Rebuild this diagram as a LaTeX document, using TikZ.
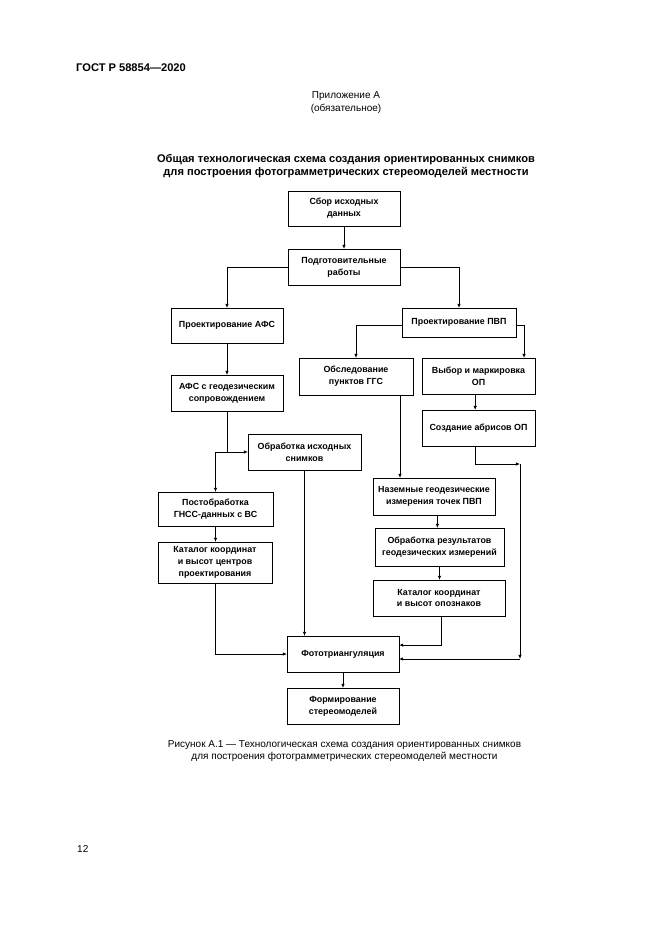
\documentclass[tikz,border=0pt]{standalone}
\usepackage{fontspec}
\setmainfont{Liberation Sans}
\usetikzlibrary{arrows.meta,calc}
\newcommand\bxfont{\bfseries\fontsize{8}{10.6}\selectfont}
\newcommand\mybox[6]{\node[box, minimum width={#4*0.9pt}, minimum height={#5*0.9pt}] (#1) at (#2,#3) {#6};}
\tikzset{
  box/.style={draw, line width=0.85pt, inner sep=1pt, outer sep=0pt, align=center, font=\bxfont},
  conn/.style={line width=0.7pt, -{Latex[length=3.8pt,width=3.2pt]}},
  plain/.style={line width=0.7pt},
  txt/.style={inner sep=0pt, align=center}
}
\begin{document}
\begin{tikzpicture}[x=0.9pt,y=-0.9pt]
\useasboundingbox[fill=white] (0,0) rectangle (661,935);
% header texts
\node[txt, anchor=west, font=\bfseries\fontsize{10}{12}\selectfont] (gost) at (76,68) {ГОСТ Р 58854—2020};
\node[txt, font=\fontsize{9}{11.7}\selectfont] (app) at (346,102.5) {Приложение А\\(обязательное)};
\node[txt, font=\bfseries\fontsize{10}{11.7}\selectfont] (title) at (346,166) {Общая технологическая схема создания ориентированных снимков\\для построения фотограмметрических стереомоделей местности};
% boxes
\mybox{src}{344}{208.5}{112}{35}{Сбор исходных\\данных}
\mybox{prep}{344}{267}{112}{36}{Подготовительные\\работы}
\mybox{afs}{227}{325.5}{112}{35}{Проектирование АФС}
\mybox{pvp}{459}{322.5}{114}{29}{Проектирование ПВП}
\mybox{afsg}{227}{393}{112}{36}{АФС с геодезическим\\сопровождением}
\mybox{obsl}{356}{376.5}{114}{37}{Обследование\\пунктов ГГС}
\mybox{vybor}{478.5}{376}{113}{36}{Выбор и маркировка\\ОП}
\mybox{abris}{478.5}{428}{113}{36}{Создание абрисов ОП}
\mybox{obrisx}{304.5}{452}{113}{36}{Обработка исходных\\снимков}
\mybox{post}{215.5}{509}{115}{34}{Постобработка\\ГНСС-данных с ВС}
\mybox{katc}{215}{562.5}{114}{41}{Каталог координат\\и высот центров\\проектирования}
\mybox{nazem}{434}{496.5}{122}{37}{Наземные геодезические\\измерения точек ПВП}
\mybox{obrres}{439.5}{547}{129}{38}{Обработка результатов\\геодезических измерений}
\mybox{katop}{439}{598}{132}{36}{Каталог координат\\и высот опознаков}
\mybox{foto}{343}{654}{112}{36}{Фототриангуляция}
\mybox{form}{343}{706}{112}{36}{Формирование\\стереомоделей}
% connectors
\draw[conn] (src.south) -- (prep.north);
\draw[conn] (prep.west) -| (afs.north);
\draw[conn] (prep.east) -| (pvp.north);
\draw[conn] (afs.south) -- (afsg.north);
\draw[conn] ([yshift=-3pt]pvp.west) -| (obsl.north);
\draw[conn] ([yshift=-2.5pt]pvp.east) -| ([xshift=41pt]vybor.north);
\draw[conn] ([xshift=-3pt]vybor.south) -- ([xshift=-3pt]abris.north);
\draw[plain] (afsg.south) -- (afsg.south |- obrisx.west);
\draw[conn] (post.north |- obrisx.west) -- (obrisx.west);
\draw[conn] (post.north |- obrisx.west) -- (post.north);
\draw[conn] (obrisx.south) -- (obrisx.south |- foto.north);
\draw[conn] (post.south) -- (post.south |- katc.north);
\draw[conn] (katc.south) |- (foto.west);
\draw[conn] ([xshift=39.6pt]obsl.south) -- ([xshift=39.6pt]obsl.south |- nazem.north);
\draw[conn] ([xshift=3pt]nazem.south) -- ([xshift=3pt]nazem.south |- obrres.north);
\draw[conn] (obrres.south) -- (obrres.south |- katop.north);
\draw[conn] ([xshift=2.5pt]katop.south) |- ([yshift=8pt]foto.east);
\coordinate (c1) at (520,464);
\coordinate (c2) at (520,659);
\draw[conn] ([xshift=-3pt]abris.south) |- (c1);
\draw[conn] (c1) -- (c2);
\draw[conn] (c2) -- (c2 -| foto.east);
\draw[conn] (foto.south) -- (form.north);
% caption
\node[txt, font=\fontsize{9}{10.4}\selectfont] (cap) at (344.5,751) {Рисунок А.1 — Технологическая схема создания ориентированных снимков\\для построения фотограмметрических стереомоделей местности};
\node[txt, anchor=west, font=\fontsize{9}{11}\selectfont] (page) at (77,849) {12};
\end{tikzpicture}
\end{document}
